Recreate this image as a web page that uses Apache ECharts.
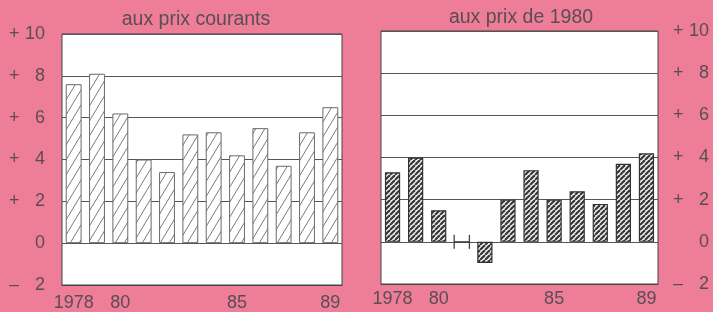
<!DOCTYPE html>
<html><head><meta charset="utf-8">
<script src="https://cdn.jsdelivr.net/npm/echarts@6/dist/echarts.min.js"></script>
<style>html,body{margin:0;padding:0;background:#ee7d98;}#c{width:713px;height:312px;}</style>
</head><body><div id="c"></div>
<script>
const years = ['1978','1979','1980','1981','1982','1983','1984','1985','1986','1987','1988','1989'];
const yearLabels = {'1978':'1978','1980':'80','1985':'85','1989':'89'};
const currentPrices = [7.6, 8.1, 6.2, 4.0, 3.4, 5.2, 5.3, 4.2, 5.5, 3.7, 5.3, 6.5];
const constantPrices = [3.3, 4.0, 1.5, 0, -1.0, 2.0, 3.4, 2.0, 2.4, 1.8, 3.7, 4.2];
const yTickValues = [-2, 0, 2, 4, 6, 8, 10];
const yTickSigns = ['–', '', '+', '+', '+', '+', '+'];
const yTickNumbers = ['2', '0', '2', '4', '6', '8', '10'];
const titles = ['aux prix courants', 'aux prix de 1980'];

function makePattern(w, h, bg, fg, lw) {
  const cv = document.createElement('canvas');
  cv.width = w; cv.height = h;
  const ctx = cv.getContext('2d');
  ctx.fillStyle = bg; ctx.fillRect(0, 0, w, h);
  ctx.strokeStyle = fg; ctx.lineWidth = lw;
  for (let k = -1; k <= 1; k++) {
    ctx.beginPath();
    ctx.moveTo(k * w, h);
    ctx.lineTo(k * w + w, 0);
    ctx.stroke();
  }
  return cv;
}
const lightHatch = makePattern(9, 15, '#ffffff', '#7a7a7a', 1);
const darkHatch = makePattern(5, 5, '#f2f2f2', '#383838', 2.2);

const FONT = '"Liberation Sans", Arial, sans-serif';
const TXT = '#5a4d55';

function yLabel(v) {
  const i = yTickValues.indexOf(v);
  if (i < 0) return '';
  return '{s|' + yTickSigns[i] + '}{n|' + yTickNumbers[i] + '}';
}
const rich = {
  s: {width: 15, align: 'left', fontSize: 18, fontFamily: FONT, color: TXT},
  n: {width: 21, align: 'right', fontSize: 18, fontFamily: FONT, color: TXT}
};

function xAxisCfg(gi, margin) {
  return {
    type: 'category', gridIndex: gi, data: years,
    axisLine: {show: true, onZero: false, lineStyle: {color: '#444', width: 1}},
    axisTick: {show: false},
    axisLabel: {
      interval: 0, margin: margin, fontSize: 18, fontFamily: FONT, color: TXT,
      formatter: v => yearLabels[v] || ''
    }
  };
}
function yAxisCfg(gi, pos) {
  return {
    type: 'value', gridIndex: gi, position: pos, min: -2, max: 10, interval: 2,
    axisLine: {show: false}, axisTick: {show: false},
    splitLine: {show: true, lineStyle: {color: '#555', width: 1}},
    axisLabel: {
      margin: pos === 'left' ? 17 : 15, formatter: yLabel, rich: rich,
      align: pos === 'left' ? 'right' : 'left'
    }
  };
}

const chart = echarts.init(document.getElementById('c'), null, {renderer: 'canvas'});
chart.setOption({
  animation: false,
  backgroundColor: '#ee7d98',
  title: [
    {text: titles[0], left: 191, top: 5, textAlign: 'center',
     textStyle: {fontSize: 19.5, fontWeight: 'normal', fontFamily: FONT, color: TXT}},
    {text: titles[1], left: 516, top: 3, textAlign: 'center',
     textStyle: {fontSize: 19.5, fontWeight: 'normal', fontFamily: FONT, color: TXT}}
  ],
  grid: [
    {left: 62, top: 34, width: 280, height: 254, show: true, backgroundColor: '#ffffff', borderColor: '#444', borderWidth: 1},
    {left: 381, top: 31, width: 277, height: 253, show: true, backgroundColor: '#ffffff', borderColor: '#444', borderWidth: 1}
  ],
  xAxis: [xAxisCfg(0, 9), xAxisCfg(1, 6)],
  yAxis: [yAxisCfg(0, 'left'), yAxisCfg(1, 'right')],
  series: [
    {type: 'bar', xAxisIndex: 0, yAxisIndex: 0, data: currentPrices, barWidth: '68%',
     itemStyle: {color: {image: lightHatch, repeat: 'repeat'}, borderColor: '#6a6a6a', borderWidth: 1}},
    {type: 'bar', xAxisIndex: 1, yAxisIndex: 1, data: constantPrices, barWidth: '66%',
     itemStyle: {color: {image: darkHatch, repeat: 'repeat'}, borderColor: '#333', borderWidth: 1.2}},
    {type: 'custom', xAxisIndex: 1, yAxisIndex: 1,
     data: constantPrices.map((v, i) => [i, v]).filter(d => d[1] === 0),
     renderItem: function (params, api) {
       const c = api.coord([api.value(0), api.value(1)]);
       const band = api.size([1, 0])[0];
       const hw = band * 0.66 / 2;
       const h = 7;
       const st = {stroke: '#444', lineWidth: 1.3};
       return {type: 'group', children: [
         {type: 'line', shape: {x1: c[0] - hw, y1: c[1] - h, x2: c[0] - hw, y2: c[1] + h}, style: st},
         {type: 'line', shape: {x1: c[0] + hw, y1: c[1] - h, x2: c[0] + hw, y2: c[1] + h}, style: st}
       ]};
     }}
  ]
});
</script></body></html>
